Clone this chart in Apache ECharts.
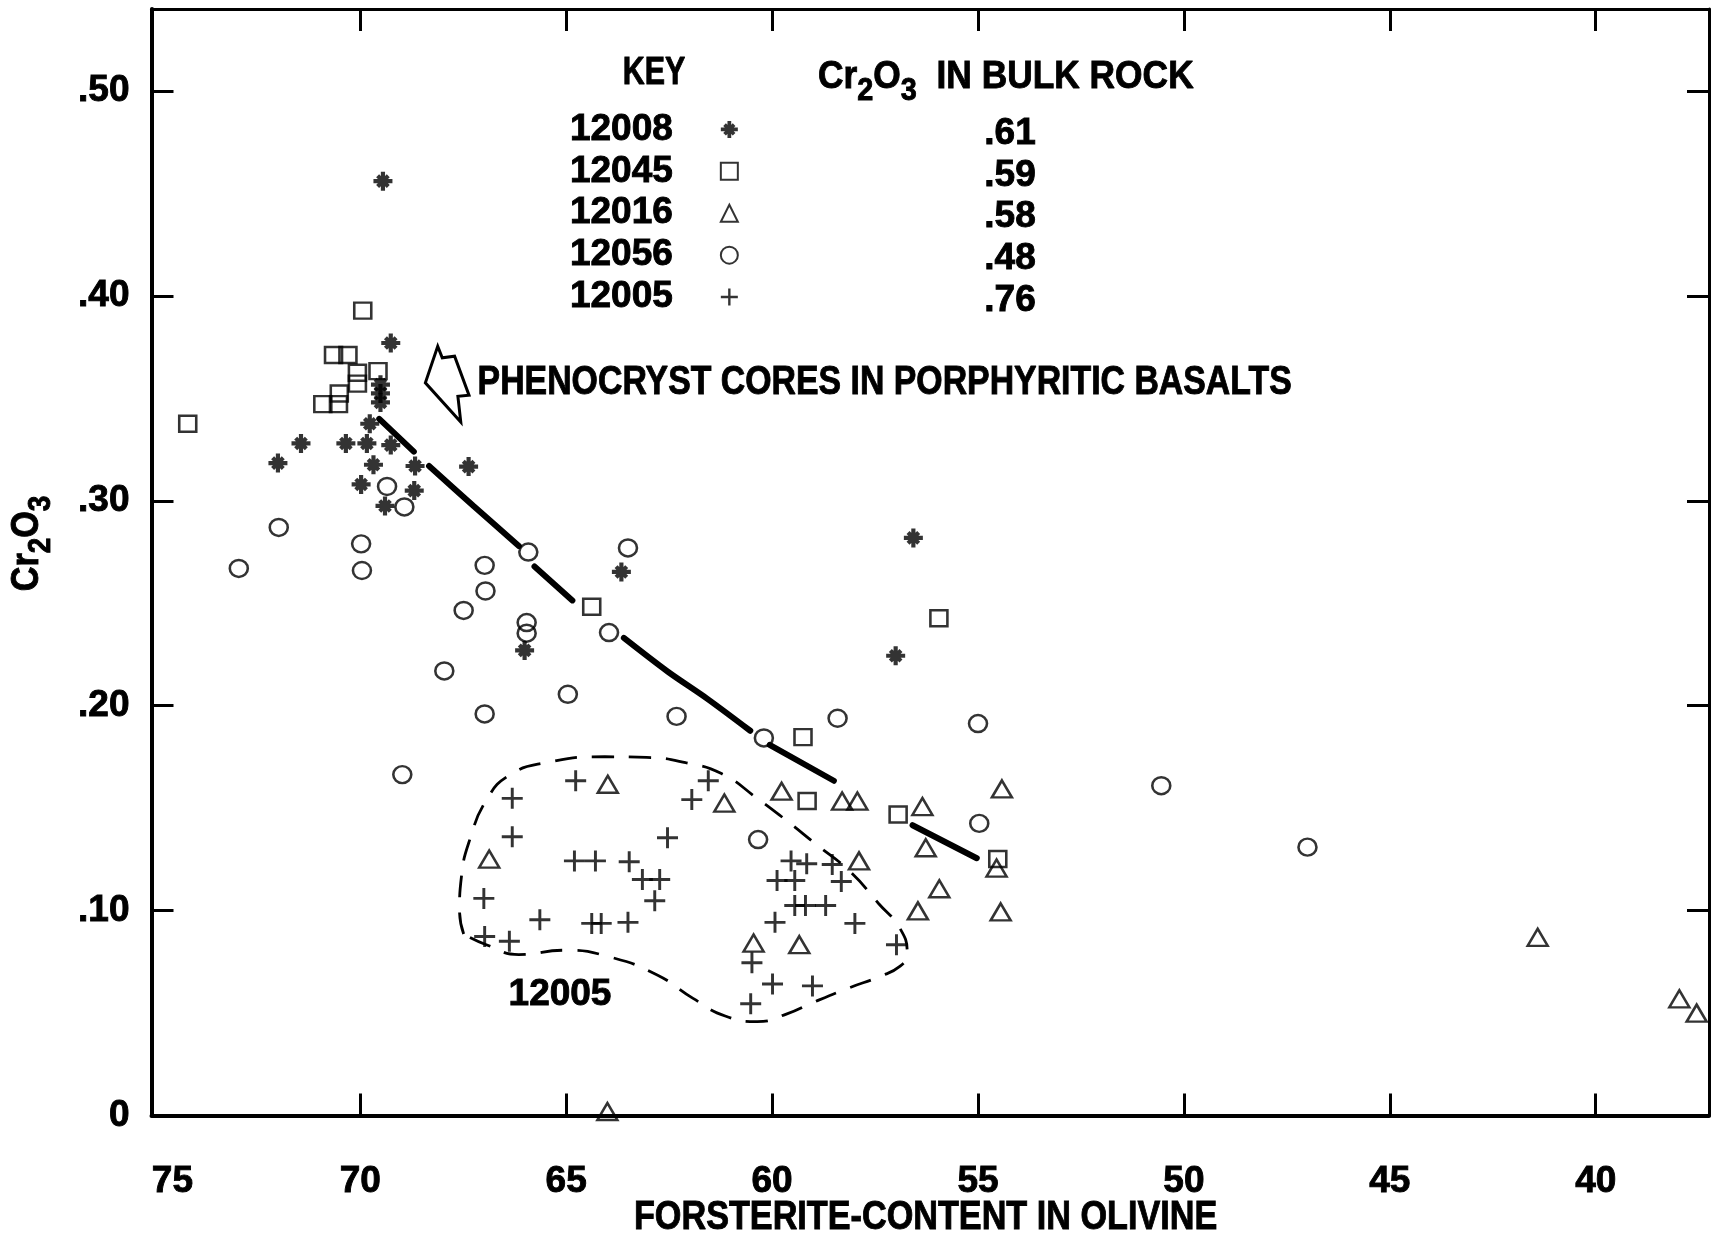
<!DOCTYPE html>
<html><head><meta charset="utf-8">
<script src="https://cdn.jsdelivr.net/npm/echarts@6/dist/echarts.min.js"></script>
<style>html,body{margin:0;padding:0;background:#fff}#c{width:1722px;height:1239px}</style>
</head><body><div id="c"></div>
<script>
// ---------- data ----------
const sampleNames = ['12008', '12045', '12016', '12056', '12005'];
const bulkRockCr2O3 = ['.61', '.59', '.58', '.48', '.76'];
const xTickValues = [75, 70, 65, 60, 55, 50, 45, 40];
const xTickLabels = ['75', '70', '65', '60', '55', '50', '45', '40'];
const yTickValues = [0, 0.1, 0.2, 0.3, 0.4, 0.5];
const yTickLabels = ['0', '.10', '.20', '.30', '.40', '.50'];

// [Fo content, Cr2O3]
const s12008 = [[69.45,0.456],[69.26,0.377],[69.51,0.3567],[69.51,0.3524],[69.51,0.348],[69.77,0.3376],
  [71.44,0.328],[70.35,0.328],[69.84,0.328],[69.26,0.3272],[72.0,0.3184],[69.68,0.3176],[68.67,0.317],
  [67.37,0.3167],[69.98,0.308],[68.69,0.305],[69.4,0.2975],[63.66,0.2653],[66.01,0.227],[56.57,0.2819],[57.0,0.2244]];
const s12045 = [[69.94,0.3928],[70.65,0.3712],[70.30,0.3712],[69.57,0.3633],[70.07,0.3625],[70.07,0.3572],
  [70.51,0.3524],[70.91,0.3472],[70.53,0.3472],[74.19,0.3376],[64.38,0.2483],[55.95,0.2427],[59.25,0.1847],
  [59.15,0.1535],[56.94,0.1469],[54.52,0.1252]];
const s12016 = [[63.99,0.1617],[61.16,0.1525],[66.87,0.1252],[59.77,0.1583],[58.3,0.1535],[57.93,0.1535],
  [56.35,0.1508],[54.42,0.1594],[56.27,0.1307],[57.89,0.1243],[54.55,0.1208],[55.94,0.1107],[56.46,0.0999],
  [54.45,0.0994],[60.45,0.0842],[59.34,0.0834],[41.41,0.087],[37.97,0.057],[37.55,0.050],[64.0,0.002]];
const s12056 = [[69.35,0.307],[68.93,0.297],[71.98,0.287],[69.98,0.279],[65.92,0.275],[63.5,0.277],[72.95,0.267],
  [69.96,0.266],[66.98,0.2685],[66.96,0.256],[67.49,0.2465],[65.96,0.2406],[65.96,0.2354],[63.96,0.2357],
  [67.96,0.217],[64.96,0.2056],[66.98,0.196],[62.32,0.1948],[68.98,0.1664],[60.2,0.1843],[58.41,0.1939],
  [55.0,0.1913],[54.97,0.1426],[60.34,0.1347],[50.55,0.161],[47.0,0.131]];
const s12005 = [[64.77,0.1634],[66.31,0.1548],[61.55,0.1634],[61.95,0.1542],[66.31,0.1361],[62.54,0.1356],
  [64.8,0.1243],[64.29,0.1243],[63.47,0.1239],[63.15,0.1152],[62.73,0.1152],[62.85,0.1048],[67.0,0.106],
  [65.64,0.0956],[64.38,0.0938],[64.15,0.0938],[63.5,0.0943],[66.98,0.0874],[66.38,0.0851],
  [59.54,0.1243],[59.16,0.1229],[58.54,0.1225],[59.88,0.1147],[59.45,0.1147],[58.32,0.1142],[59.45,0.1025],
  [59.19,0.1025],[58.7,0.1025],[59.93,0.0943],[57.99,0.0938],[56.98,0.0834],[60.49,0.0746],[59.99,0.0642],
  [59.02,0.0633],[60.52,0.0546]];

// phenocryst-core trend (drawn in pieces, broken around symbols)
const trendSegments = [
  [[69.54,0.340],[68.70,0.324]],
  [[68.33,0.317],[67.25,0.2975],[66.15,0.278]],
  [[65.77,0.268],[64.85,0.2514]],
  [[63.6,0.2331],[62.53,0.2166],[61.58,0.2035],[60.53,0.1878]],
  [[60.06,0.1809],[58.5,0.1634]],
  [[56.59,0.1417],[55.03,0.1256]]
];
// dashed field of 12005
const envelope12005 = [[67.49,0.0886],[67.59,0.0999],[67.54,0.1173],[67.34,0.1347],[66.94,0.1539],[66.38,0.1661],
  [65.50,0.1722],[64.06,0.1751],[63.05,0.1748],[62.10,0.1722],[61.23,0.1669],[60.36,0.1548],[59.67,0.1443],
  [58.97,0.1330],[58.11,0.1191],[57.41,0.1034],[56.89,0.0912],[56.72,0.0790],[56.89,0.0729],[57.41,0.0677],
  [58.11,0.0625],[58.97,0.0555],[59.67,0.0494],[60.36,0.0459],[61.14,0.0486],[61.92,0.0572],[62.79,0.0686],
  [63.92,0.0773],[65.03,0.0807],[66.15,0.0786],[66.94,0.0834],[67.49,0.0886]];
// annotation arrow outline
const arrowOutline = [[68.12,0.3754],[68.01,0.3698],[67.71,0.3706],[67.36,0.3515],[67.63,0.3510],[67.56,0.3385],[68.42,0.3576]];

// ---------- styling ----------
const FONT = '"Liberation Sans", Arial, sans-serif';
const ASTERISK = 'path://M39,0L61,0L61,100L39,100Z M0,39L100,39L100,61L0,61Z M29.8,14.2L85.8,70.2L70.2,85.8L14.2,29.8Z M85.8,29.8L29.8,85.8L14.2,70.2L70.2,14.2Z';
const PLUS = 'path://M43,0L57,0L57,100L43,100Z M0,43L100,43L100,57L0,57Z';
const hollow = {color: 'rgba(0,0,0,0)', borderColor: '#000', borderWidth: 2.5};
const solid = {color: '#000', borderWidth: 0};
const HEAVY = {textBorderColor: '#000', textBorderWidth: 0.9};   // for echarts label models
const HEAVY_G = {stroke: '#000', lineWidth: 0.9};               // for graphic (zrender) text

function yLabel(v) {
  const i = yTickValues.findIndex(t => Math.abs(t - v) < 1e-6);
  return i >= 0 ? yTickLabels[i] : '';
}
function xLabel(v) {
  const i = xTickValues.findIndex(t => Math.abs(t - v) < 1e-6);
  if (i < 0) return '';
  return i === 0 ? '{r|' + xTickLabels[i] + '}' : xTickLabels[i];
}
const innerTicks = xTickValues.filter(v => v !== 75);
const X_MIN = 37.25, X_MAX = 75.07, Y_MIN = 0, Y_MAX = 0.54;

const tickStyle = {show: true, inside: true, length: 22, lineStyle: {color: '#000', width: 3}};

const chart = echarts.init(document.getElementById('c'), null, {renderer: 'canvas'});

const scatterDefs = [
  {name: '12008', data: s12008, symbol: ASTERISK, symbolSize: 19, itemStyle: solid},
  {name: '12045', data: s12045, symbol: 'rect', symbolSize: [17, 16], itemStyle: hollow},
  {name: '12016', data: s12016, symbol: 'triangle', symbolSize: [20, 17], itemStyle: hollow},
  {name: '12056', data: s12056, symbol: 'circle', symbolSize: [18, 17], itemStyle: hollow},
  {name: '12005', data: s12005, symbol: PLUS, symbolSize: 21, itemStyle: solid}
];

const series = [];
scatterDefs.forEach(d => series.push(Object.assign({type: 'scatter', silent: true, z: 5,
  emphasis: {disabled: true}}, d)));
trendSegments.forEach(seg => series.push({type: 'line', data: seg, symbol: 'none', smooth: 0.3, silent: true, z: 4,
  lineStyle: {color: '#000', width: 6, cap: 'round'}}));
series.push({type: 'line', data: envelope12005, symbol: 'none', smooth: 0.5, silent: true, z: 3,
  lineStyle: {color: '#000', width: 2.8, type: [22, 15]}});
series.push({type: 'custom', silent: true, z: 6, data: [[68, 0.36]],
  renderItem: (params, api) => ({
    type: 'polygon',
    shape: {points: arrowOutline.map(p => api.coord(p))},
    style: {fill: '#fff', stroke: '#000', lineWidth: 3, lineJoin: 'miter'}
  })});

const richSub = {
  a: Object.assign({fontSize: 38, fontWeight: 'bold', fontFamily: FONT, fill: '#000', lineHeight: 40, height: 40, verticalAlign: 'bottom'}, HEAVY_G),
  s: Object.assign({fontSize: 31, fontWeight: 'bold', fontFamily: FONT, fill: '#000', lineHeight: 14, height: 14, verticalAlign: 'bottom'}, HEAVY_G)
};
function txt(x, y, text, size, opts) {
  return Object.assign({type: 'text', x: x, y: y, silent: true, z: 10,
    style: Object.assign({text: text, fontSize: size, fontWeight: 'bold', fontFamily: FONT, fill: '#000',
      align: (opts && opts.align) || 'center', verticalAlign: 'middle'}, HEAVY_G)}, opts && opts.el);
}

const graphic = [
  txt(654, 74, 'KEY', 38, {el: {scaleX: 0.8}}),
  {type: 'text', x: 818, y: 78, scaleX: 0.93, silent: true, z: 10,
    style: {text: '{a|Cr}{s|2}{a|O}{s|3}{a|  IN BULK ROCK}', rich: richSub, align: 'left', verticalAlign: 'middle'}},
  txt(477.6, 383, 'PHENOCRYST CORES IN PORPHYRITIC BASALTS', 40, {align: 'left', el: {scaleX: 0.846}}),
  txt(560, 994.5, '12005', 37),
  txt(925.6, 1217.5, 'FORSTERITE-CONTENT IN OLIVINE', 40, {el: {scaleX: 0.855}}),
  {type: 'text', x: 28, y: 543.5, rotation: Math.PI / 2, scaleX: 0.9, silent: true, z: 10,
    style: {text: '{a|Cr}{s|2}{a|O}{s|3}', rich: richSub, align: 'center', verticalAlign: 'middle'}}
];
bulkRockCr2O3.forEach((v, i) => graphic.push(txt(1010, 134 + 41.6 * i, v, 37)));

chart.setOption({
  animation: false,
  backgroundColor: '#fff',
  grid: {left: 151.5, right: 13, top: 9, bottom: 123.4},
  legend: {
    data: sampleNames, orient: 'vertical', left: 564.5, top: 105.5, align: 'right',
    itemWidth: 17, itemHeight: 17, itemGap: 4.0, selectedMode: false,
    textStyle: Object.assign({color: '#000', fontFamily: FONT, fontWeight: 'bold', fontSize: 37, lineHeight: 36, padding: [0, 43, 0, 0]}, HEAVY)
  },
  xAxis: [
    {type: 'value', position: 'bottom', min: X_MIN, max: X_MAX, inverse: true, splitLine: {show: false},
      axisLine: {show: true, onZero: false, lineStyle: {color: '#000', width: 4}},
      axisTick: Object.assign({customValues: innerTicks}, tickStyle),
      axisLabel: Object.assign({customValues: xTickValues, formatter: xLabel, margin: 48, color: '#000',
        fontSize: 37, fontWeight: 'bold', fontFamily: FONT, showMinLabel: true, showMaxLabel: true,
        rich: {r: Object.assign({padding: [0, 0, 0, 36], fontSize: 37, fontWeight: 'bold', fontFamily: FONT, color: '#000'}, HEAVY)}
      }, HEAVY)},
    {type: 'value', position: 'top', min: X_MIN, max: X_MAX, inverse: true, splitLine: {show: false},
      axisLine: {show: true, onZero: false, lineStyle: {color: '#000', width: 3}},
      axisTick: Object.assign({customValues: innerTicks}, tickStyle),
      axisLabel: {show: false}}
  ],
  yAxis: [
    {type: 'value', position: 'left', min: Y_MIN, max: Y_MAX, splitLine: {show: false},
      axisLine: {show: true, onZero: false, lineStyle: {color: '#000', width: 4}},
      axisTick: Object.assign({customValues: yTickValues.filter(v => v > 0)}, tickStyle),
      axisLabel: Object.assign({customValues: yTickValues, formatter: yLabel, margin: 22, color: '#000',
        fontSize: 37, fontWeight: 'bold', fontFamily: FONT}, HEAVY)},
    {type: 'value', position: 'right', min: Y_MIN, max: Y_MAX, splitLine: {show: false},
      axisLine: {show: true, onZero: false, lineStyle: {color: '#000', width: 3}},
      axisTick: Object.assign({customValues: yTickValues.filter(v => v > 0)}, tickStyle),
      axisLabel: {show: false}}
  ],
  series: series,
  graphic: graphic
});
</script>
</body></html>
